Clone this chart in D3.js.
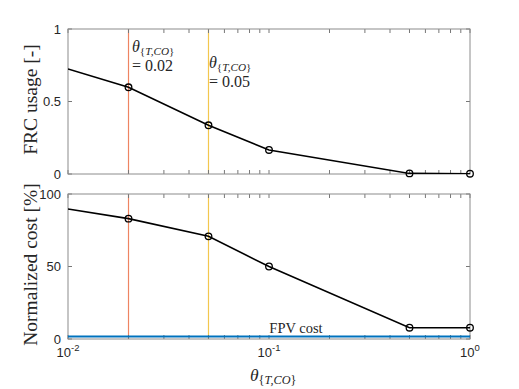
<!DOCTYPE html>
<html>
<head>
<meta charset="utf-8">
<script src="https://cdn.jsdelivr.net/npm/d3@7"></script>
<style>
  body { margin: 0; background: #fff; }
  .tick text { font-family: "Liberation Sans", Arial, sans-serif; font-size: 13px; fill: #262626; }
  .lbl { font-family: "Liberation Serif", "DejaVu Serif", serif; fill: #262626; }
</style>
</head>
<body>
<svg id="svg" width="519" height="389"></svg>
<script>
// data
const theta = [0.01, 0.02, 0.05, 0.1, 0.5, 1];
const frcUsage = [0.724, 0.598, 0.336, 0.166, 0.004, 0.002];
const normCost = [89.7, 83.0, 70.8, 50.0, 7.8, 7.8];
const fpvCost = 1.8;
const markedThresholds = [0.02, 0.05];
const thresholdColors = ['#EE8462', '#F3C74E'];
const xTickVals = [0.01, 0.1, 1];
const xTickExp = ['-2', '-1', '0'];

const svg = d3.select('#svg');
const left = 68, right = 470;
const x = d3.scaleLog().domain([0.01, 1]).range([left, right]);
const minor = [];
[0.01, 0.1].forEach(d => { for (let k = 1; k <= 9; k++) minor.push(d * k); });
minor.push(1);

function panel(top, bottom, yDomain, yTicks, vals, ylabel) {
  const y = d3.scaleLinear().domain(yDomain).range([bottom, top]);
  const g = svg.append('g');
  const clipId = 'clip' + top;
  svg.append('clipPath').attr('id', clipId).append('rect')
    .attr('x', left).attr('y', top).attr('width', right - left).attr('height', bottom - top);

  // threshold lines
  markedThresholds.forEach((t, i) => {
    g.append('line').attr('x1', x(t)).attr('x2', x(t)).attr('y1', top).attr('y2', bottom)
      .attr('stroke', thresholdColors[i]).attr('stroke-width', 1.2);
  });

  // minor/major ticks on x (inside, top & bottom)
  minor.forEach(v => {
    g.append('line').attr('x1', x(v)).attr('x2', x(v)).attr('y1', bottom).attr('y2', bottom - 4).attr('stroke', '#777');
    g.append('line').attr('x1', x(v)).attr('x2', x(v)).attr('y1', top).attr('y2', top + 4).attr('stroke', '#777');
  });
  yTicks.forEach(v => {
    g.append('line').attr('x1', left).attr('x2', left + 4).attr('y1', y(v)).attr('y2', y(v)).attr('stroke', '#777');
    g.append('line').attr('x1', right).attr('x2', right - 4).attr('y1', y(v)).attr('y2', y(v)).attr('stroke', '#777');
  });

  // y tick labels
  const ya = g.append('g').attr('transform', `translate(${left},0)`)
    .call(d3.axisLeft(y).tickValues(yTicks).tickSize(0).tickPadding(7).tickFormat(d3.format('~g')));
  ya.select('.domain').remove();

  // box
  g.append('rect').attr('x', left).attr('y', top).attr('width', right - left).attr('height', bottom - top)
    .attr('fill', 'none').attr('stroke', '#8c8c8c').attr('stroke-width', 1);

  // data line
  const line = d3.line().x((d, i) => x(theta[i])).y(d => y(d));
  g.append('path').datum(vals).attr('d', line).attr('fill', 'none')
    .attr('stroke', '#000').attr('stroke-width', 1.6).attr('clip-path', `url(#${clipId})`);
  g.selectAll('circle.m').data(vals.slice(1)).join('circle').attr('class', 'm')
    .attr('cx', (d, i) => x(theta[i + 1])).attr('cy', d => y(d)).attr('r', 3.3)
    .attr('fill', 'none').attr('stroke', '#000').attr('stroke-width', 1.3);

  // y label
  g.append('text').attr('class', 'lbl').attr('font-size', 19.5)
    .attr('transform', `translate(37,${(top + bottom) / 2 - 2}) rotate(-90)`)
    .attr('text-anchor', 'middle').text(ylabel);
  return y;
}

panel(29, 174, [0, 1], [0, 0.5, 1], frcUsage, 'FRC usage [-]');
const y2 = panel(194, 339, [0, 100], [0, 50, 100], normCost, 'Normalized cost [%]');

// FPV cost line
svg.append('line').attr('x1', left).attr('x2', right).attr('y1', y2(fpvCost)).attr('y2', y2(fpvCost))
  .attr('stroke', '#0072BD').attr('stroke-width', 2);
svg.append('text').attr('class', 'lbl').attr('font-size', 14.5)
  .attr('x', 296).attr('y', 333).attr('text-anchor', 'middle').text('FPV cost');

// x tick labels 10^n
xTickVals.forEach((v, i) => {
  const t = svg.append('text').attr('x', x(v)).attr('y', 357).attr('text-anchor', 'middle')
    .attr('font-family', '"Liberation Sans", Arial, sans-serif').attr('font-size', 13).attr('fill', '#262626');
  t.append('tspan').text('10');
  t.append('tspan').attr('dy', -6).attr('font-size', 9.5).text(xTickExp[i]);
});

// theta labels
function thetaLabel(xp, yp, val, size) {
  const t = svg.append('text').attr('class', 'lbl').attr('x', xp).attr('y', yp).attr('font-size', size);
  t.append('tspan').attr('font-style', 'italic').text('θ');
  t.append('tspan').attr('dy', 3).attr('font-size', size * 0.7).text('{');
  t.append('tspan').attr('font-size', size * 0.7).attr('font-style', 'italic').text('T,CO');
  t.append('tspan').attr('font-size', size * 0.7).text('}');
  if (val !== null) {
    svg.append('text').attr('class', 'lbl').attr('x', xp).attr('y', yp + 19)
      .attr('font-size', size).text('= ' + val);
  }
}
thetaLabel(132, 52, '0.02', 16);
thetaLabel(209, 68, '0.05', 16);
thetaLabel(250, 381, null, 17.5);
</script>
</body>
</html>
